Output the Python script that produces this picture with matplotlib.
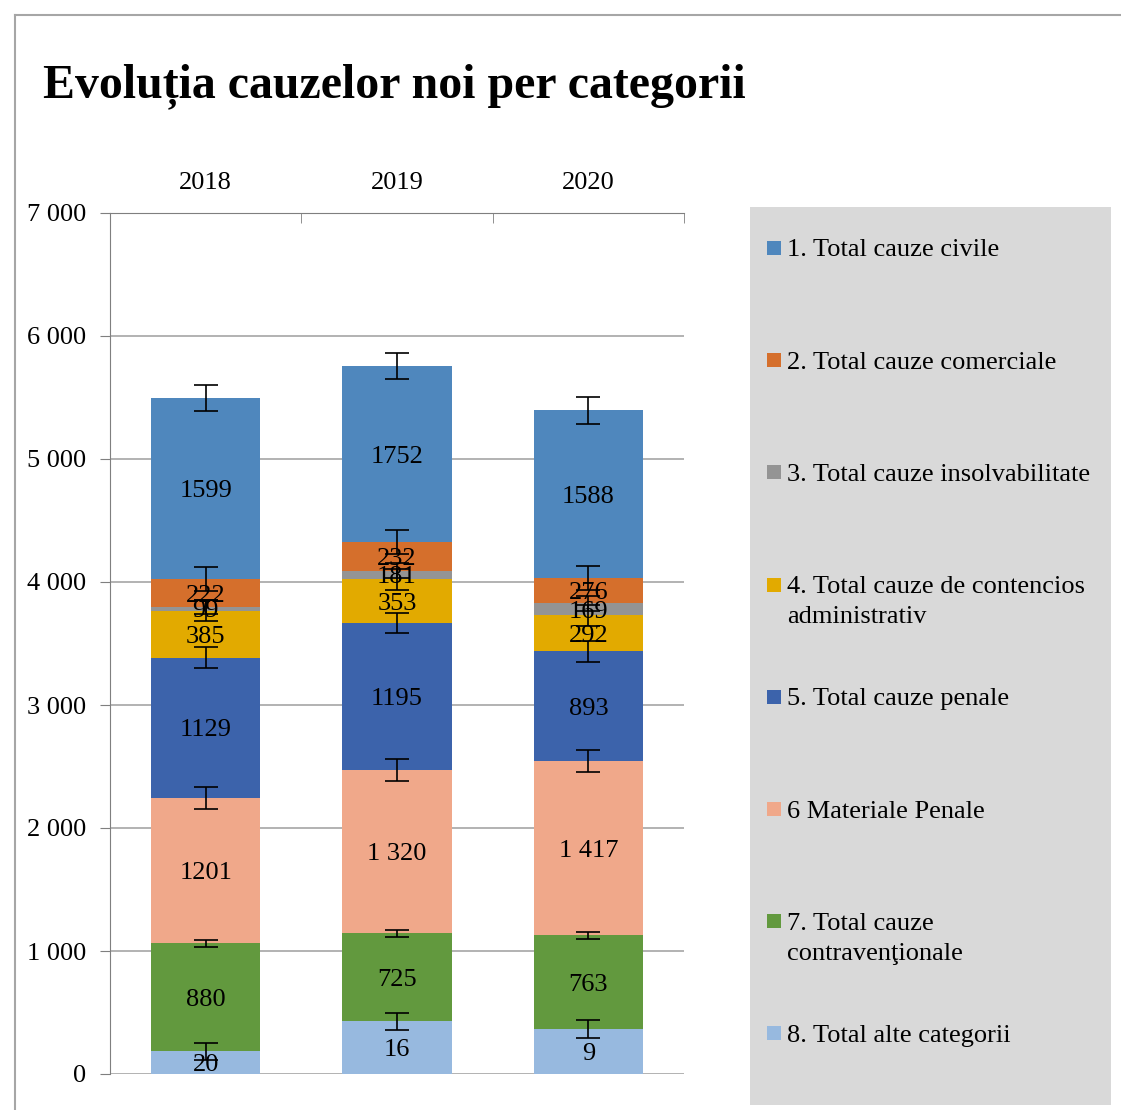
import numpy as np
import matplotlib
matplotlib.use("Agg")
from matplotlib import pyplot as plt
from matplotlib.patches import Rectangle
from matplotlib.lines import Line2D

plt.rcParams['font.family'] = ['Liberation Serif', 'DejaVu Serif']

years = ["2018", "2019", "2020"]

# segment heights, bottom to top of the stack
alte = [183, 427, 368]
contrav = [879, 716, 759]
mat_penale = [1185, 1326, 1416]
penale = [1138, 1198, 895]
contencios = [382, 355, 290]
insolv = [30, 70, 98]
comerciale = [225, 231, 208]
civile = [1473, 1433, 1362]

# labels printed on the segments
lbl_alte = ["20", "16", "9"]
lbl_contrav = ["880", "725", "763"]
lbl_mat_penale = ["1201", "1 320", "1 417"]
lbl_penale = ["1129", "1195", "893"]
lbl_contencios = ["385", "353", "292"]
lbl_insolv = ["99", "181", "169"]
lbl_comerciale = ["222", "232", "276"]
lbl_civile = ["1599", "1752", "1588"]

# error bar half-lengths (standard error, one per series)
err = [73, 27, 90, 85, 85, 60, 98, 108]

names = ["8. Total alte categorii",
         "7. Total cauze\ncontravenţionale",
         "6 Materiale Penale",
         "5. Total cauze penale",
         "4. Total cauze de contencios\nadministrativ",
         "3. Total cauze insolvabilitate",
         "2. Total cauze comerciale",
         "1. Total cauze civile"]
colors = ["#97b9df", "#62993e", "#f0a88a", "#3c63ab",
          "#e2aa00", "#949494", "#d56f2c", "#4f87bd"]

series = [alte, contrav, mat_penale, penale, contencios, insolv, comerciale, civile]
labels = [lbl_alte, lbl_contrav, lbl_mat_penale, lbl_penale,
          lbl_contencios, lbl_insolv, lbl_comerciale, lbl_civile]

W, H = 1121, 1110
fig = plt.figure(figsize=(W / 100, H / 100), dpi=100)

# outer frame (top and left edges visible)
fig.add_artist(Line2D([15 / W, 1], [1 - 15 / H, 1 - 15 / H], color="#a6a6a6", lw=1.5))
fig.add_artist(Line2D([15 / W, 15 / W], [0, 1 - 15 / H], color="#a6a6a6", lw=1.5))

fig.text(43 / W, 1 - 97 / H, "Evoluția cauzelor noi per categorii",
         fontsize=34.5, fontweight="bold", va="baseline", ha="left")

ax = fig.add_axes([110 / W, (H - 1074) / H, 574 / W, 861 / H])
x = np.arange(len(years))
bottom = np.zeros(len(years))
fs = 19
for vals, lbls, c, e in zip(series, labels, colors, err):
    vals = np.array(vals, dtype=float)
    ax.bar(x, vals, 0.57, bottom=bottom, color=c, zorder=2)
    ax.errorbar(x, bottom + vals, yerr=e, fmt="none", ecolor="black",
                elinewidth=1.2, capsize=8.5, capthick=1.2, zorder=3)
    for xi, b, v, t in zip(x, bottom, vals, lbls):
        ax.text(xi, b + v / 2, t, ha="center", va="center_baseline",
                fontsize=fs, zorder=4)
    bottom = bottom + vals

ax.set_xlim(-0.5, 2.5)
ax.set_ylim(0, 7000)
ax.set_yticks(np.arange(0, 7001, 1000))
ax.set_yticklabels(["0"] + ["%d 000" % k for k in range(1, 8)], fontsize=fs)
ax.yaxis.grid(True, color="#a6a6a6", lw=1.2, zorder=0)
ax.set_axisbelow(True)

ax.xaxis.tick_top()
ax.set_xticks(x)
ax.set_xticklabels(years, fontsize=fs)
ax.set_xticks([0.5, 1.5, 2.5], minor=True)
ax.tick_params(axis="x", which="major", length=0, pad=14)
ax.tick_params(axis="x", which="minor", direction="in", length=7, color="#7f7f7f")
ax.tick_params(axis="y", length=7, color="#7f7f7f", pad=10)
for s in ["right", "bottom"]:
    ax.spines[s].set_visible(False)
for s in ["top", "left"]:
    ax.spines[s].set_color("#7f7f7f")

# legend panel
fig.add_artist(Rectangle((750 / W, (H - 1105) / H), 361 / W, 898 / H,
                         facecolor="#d9d9d9", edgecolor="none"))
y0 = 248
for i, (n, c) in enumerate(zip(names[::-1], colors[::-1])):
    yc = y0 + i * 112.2
    fig.add_artist(Rectangle((767 / W, (H - yc - 7) / H), 14 / W, 14 / H,
                             facecolor=c, edgecolor="none"))
    for j, line in enumerate(n.split("\n")):
        fig.text(787 / W, (H - yc - j * 30) / H, line, fontsize=fs,
                 va="center_baseline", ha="left")

fig.savefig("out.png", dpi=100)
